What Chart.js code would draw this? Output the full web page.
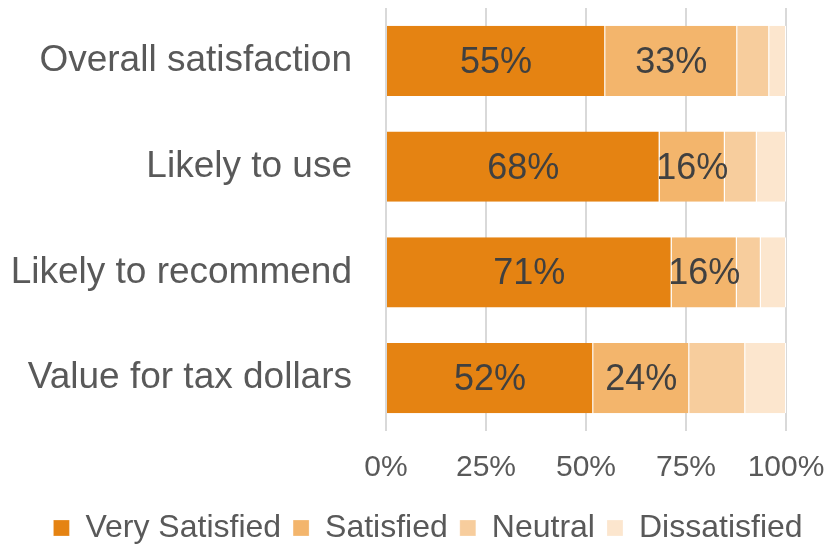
<!DOCTYPE html>
<html>
<head>
<meta charset="utf-8">
<script src="https://cdn.jsdelivr.net/npm/chart.js@4/dist/chart.umd.min.js"></script>
<style>
  html, body { margin: 0; padding: 0; background: #fff; }
  #wrap { width: 828px; height: 546px; }
</style>
</head>
<body>
<div id="wrap"><canvas id="satisfaccion" width="828" height="546"></canvas></div>
<script>
var categorias = ["Overall satisfaction", "Likely to use", "Likely to recommend", "Value for tax dollars"];
var muySatisfecho = [54.8, 68.4, 71.4, 51.8];
var satisfecho = [33, 16.3, 16.3, 24];
var neutral = [8, 8, 6, 14];
var insatisfecho = [4.2, 7.3, 6.3, 10.2];
var ticksX = [0, 25, 50, 75, 100];

var fuente = "'Liberation Sans', Arial, sans-serif";

// porcentajes dentro de las dos primeras series
var etiquetas = {
	id: 'etiquetas',
	afterDatasetsDraw: function(chart) {
		var ctx = chart.ctx;
		ctx.save();
		ctx.font = "36px " + fuente;
		ctx.fillStyle = "#404040";
		ctx.textAlign = "center";
		ctx.textBaseline = "middle";
		[0, 1].forEach(function(d) {
			var meta = chart.getDatasetMeta(d);
			meta.data.forEach(function(bar, i) {
				var v = chart.data.datasets[d].data[i];
				var p = bar.getProps(['x', 'y', 'base'], true);
				ctx.fillText(Math.round(v) + "%", (p.x + p.base) / 2, p.y + 2);
			});
		});
		ctx.restore();
	}
};

// la leyenda del original esta corrida a la derecha
var moverLeyenda = {
	id: 'moverLeyenda',
	afterLayout: function(chart) {
		chart.legend.left += 30;
		chart.legend.right += 30;
	}
};

var grafica = document.getElementById('satisfaccion').getContext('2d');
var chart = new Chart(grafica, {
	type: 'bar',
	data: {
		labels: categorias,
		datasets: [
			{ label: "Very Satisfied", data: muySatisfecho, backgroundColor: "#E58312" },
			{ label: "Satisfied", data: satisfecho, backgroundColor: "#F3B56C" },
			{ label: "Neutral", data: neutral, backgroundColor: "#F7CD9D" },
			{ label: "Dissatisfied", data: insatisfecho, backgroundColor: "#FCE6CE" }
		].map(function(ds) {
			ds.borderColor = "#ffffff";
			ds.borderWidth = { left: 0, right: 1, top: 0, bottom: 0 };
			ds.borderSkipped = false;
			ds.categoryPercentage = 1;
			ds.barPercentage = 0.662;
			return ds;
		})
	},
	options: {
		indexAxis: 'y',
		responsive: false,
		animation: false,
		layout: { padding: { top: 8, right: 42, left: 10, bottom: -8 } },
		scales: {
			x: {
				stacked: true,
				min: 0,
				max: 100,
				afterBuildTicks: function(scale) {
					scale.ticks = ticksX.map(function(v) { return { value: v }; });
				},
				afterFit: function(scale) {
					scale.height = 69;
					scale.paddingLeft = 0;
					scale.paddingRight = 0;
				},
				grid: { color: "#d9d9d9", lineWidth: 2, drawTicks: false },
				border: { display: false },
				ticks: {
					padding: 19,
					color: "#595959",
					font: { family: fuente, size: 30 },
					callback: function(v) { return v + "%"; }
				}
			},
			y: {
				stacked: true,
				afterFit: function(scale) {
					scale.width = 376;
					scale.paddingTop = 0;
					scale.paddingBottom = 0;
				},
				grid: { display: false, drawTicks: false },
				border: { display: false },
				ticks: {
					padding: 34,
					color: "#595959",
					font: { family: fuente, size: 37 }
				}
			}
		},
		plugins: {
			tooltip: { enabled: false },
			legend: {
				position: 'bottom',
				labels: {
					boxWidth: 16,
					boxHeight: 16,
					padding: 12,
					color: "#595959",
					font: { family: fuente, size: 32 }
				}
			}
		}
	},
	plugins: [etiquetas, moverLeyenda]
});
</script>
</body>
</html>
